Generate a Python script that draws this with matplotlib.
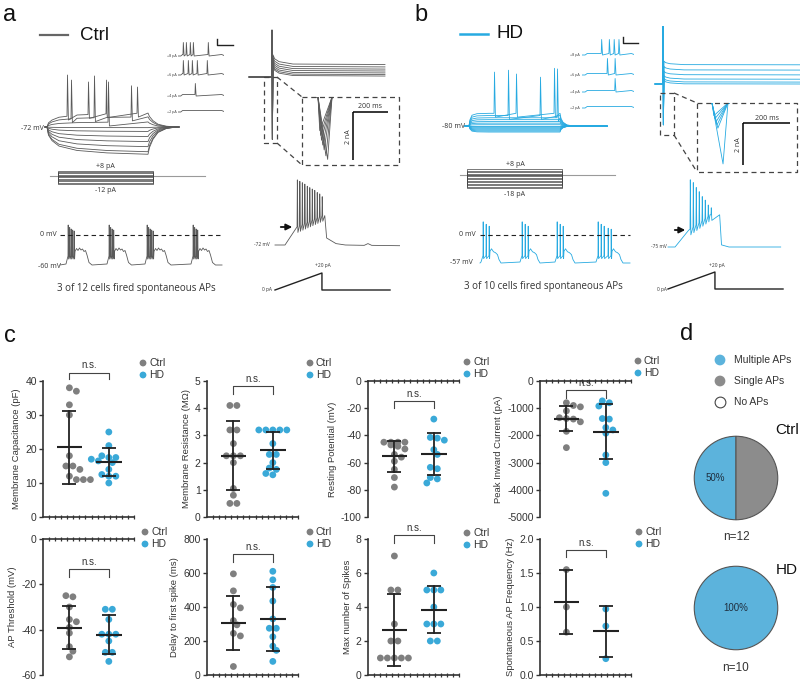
import numpy as np
import matplotlib
matplotlib.use("Agg")
import matplotlib.pyplot as plt
from matplotlib.ticker import FormatStrFormatter

plt.rcParams['font.family'] = ['Liberation Sans', 'DejaVu Sans']
plt.rcParams['axes.unicode_minus'] = False

W, H = 800, 681

# ======================= DATA =======================
# ---- panel c: per-cell values ----
cap_ctrl = [38, 37, 33, 30, 18, 15, 15, 14, 12, 11, 11, 11]
cap_hd = [25, 21, 18, 17.5, 17.5, 17, 16.5, 16, 14, 12.5, 12, 12, 10]
cap_mean = [20.5, 16.3]
cap_sd = [10.7, 4.1]

res_ctrl = [4.1, 4.1, 3.2, 3.2, 2.7, 2.25, 2.25, 2.25, 2.0, 1.05, 0.8, 0.5, 0.5]
res_hd = [3.2, 3.2, 3.2, 3.2, 3.2, 2.7, 2.3, 2.3, 2.0, 1.8, 1.75, 1.6, 1.55]
res_mean = [2.25, 2.45]
res_sd = [1.27, 0.67]

rmp_ctrl = [-45, -45, -45, -45, -47, -48, -50, -54, -56, -59, -65, -71, -78]
rmp_hd = [-28, -41.5, -42, -43.5, -50.5, -54, -63.5, -64.5, -71, -72, -75]
rmp_mean = [-55.5, -53.7]
rmp_sd = [11.6, 15.2]

ipk_ctrl = [-800, -900, -950, -1100, -1350, -1380, -1400, -1500, -1850, -2450]
ipk_hd = [-730, -800, -920, -1380, -1400, -1710, -1800, -1920, -2720, -3000, -4130]
ipk_mean = [-1380, -1860]
ipk_sd = [460, 1020]

thr_ctrl = [-25, -25.5, -30, -35.5, -36.5, -39, -41.5, -47.5, -49.5, -52]
thr_hd = [-31, -31, -35.5, -42, -42, -42, -45, -50, -50, -54]
thr_mean = [-39.1, -42.2]
thr_sd = [9.6, 8.5]

dly_ctrl = [595, 495, 415, 395, 320, 295, 245, 230, 50]
dly_hd = [610, 560, 515, 435, 330, 275, 275, 225, 170, 145, 80]
dly_mean = [305, 330]
dly_sd = [160, 186]

spk_ctrl = [7, 5, 5, 3, 2, 2, 1, 1, 1, 1, 1]
spk_hd = [6, 5, 5, 5, 4, 3, 3, 3, 2, 2]
spk_mean = [2.65, 3.85]
spk_sd = [2.12, 1.38]

frq_ctrl = [1.55, 1.0, 0.63]
frq_hd = [0.97, 0.72, 0.24]
frq_mean = [1.07, 0.64]
frq_sd = [0.47, 0.37]

groups = ['Ctrl', 'HD']

# ---- panel d ----
pie_categories = ['Multiple APs', 'Single APs', 'No APs']
pie_ctrl = [50, 50, 0]
pie_hd = [100, 0, 0]
pie_n = ['n=12', 'n=10']

# ---- panels a/b: step-current families (mV) ----
ctrl_rest = -72
hd_rest = -80
ctrl_step_dv = [-43, -39, -31, -23, -15, -7, -1, 8, 16, 22]
hd_step_dv = [-9.5, -8, -6.5, -5, -3.5, -2, 0, 2, 4.5, 7, 10, 13, 16.5, 20]
ctrl_step_on, ctrl_step_off, ctrl_step_end = 20, 1030, 1340
hd_step_on, hd_step_off, hd_step_end = 40, 950, 1420
ctrl_rise_dt = [15, 50, 120, 300, 600]
ctrl_rise_f = [0.3, 0.5, 0.7, 0.86, 0.95]
ctrl_fall_dt = [15, 50, 100, 180, 280]
ctrl_fall_f = [0.75, 0.45, 0.2, 0.06, 0.0]
hd_rise_dt = [10, 30, 80, 200]
hd_rise_f = [0.5, 0.85, 0.97, 1.0]
hd_fall_dt = [10, 30, 70, 140]
hd_fall_f = [0.6, 0.3, 0.08, 0.0]
ctrl_step_spk_trace = [9, 8, 9, 8, 9, 7, 8, 9]
ctrl_step_spk_t = [220, 260, 430, 490, 610, 630, 860, 920]
ctrl_step_spk_peak = [10, 2, -1, 8.5, 2, -1, -7, -9]
hd_step_spk_trace = [13, 12, 13, 12, 13, 11]
hd_step_spk_t = [290, 430, 510, 750, 890, 920]
hd_step_spk_peak = [5, 8, 2, -3, 11, 10]

# injected current steps (pA)
ctrl_cc_pA = [8, 6, 4, 2, 0, -2, -4, -6, -8, -10, -12]
hd_cc_pA = [8, 6, 4, 2, 0, -2, -4, -6, -8, -10, -12, -14, -16, -18]
ctrl_cc_on, ctrl_cc_off, cc_end = 80, 1030, 1550
hd_cc_on, hd_cc_off = 70, 1020

# small example traces (ms of spikes, spike height)
inset_shape_t = [0, 60, 100, 950, 1000]
inset_shape_v = [0, 0, 1.5, 1.5, 0.5]
ctrl_inset_labels = ['+8 pA', '+6 pA', '+4 pA', '+2 pA']
hd_inset_labels = ['+8 pA', '+6 pA', '+4 pA', '+2 pA']
ctrl_inset_spk = [[108, 174, 260, 326, 651], [108, 217, 304, 412, 629], [369], []]
hd_inset_spk = [[370, 518, 611, 703], [481, 629], [629], []]
ctrl_inset_h = [12, 13, 11, 0]
hd_inset_h = [14, 15, 12, 0]

# voltage clamp (nA)
ctrl_vc_ss = [0.04, 0.1, 0.17, 0.25, 0.33, 0.42, 0.52]
hd_vc_ss = [0.0, 0.08, 0.2, 0.38, 0.58, 0.8]
ctrl_vc_up, ctrl_vc_down, ctrl_vc_bump = 1.95, -2.6, 0.4
hd_vc_up, hd_vc_down, hd_vc_bump = 2.4, -1.7, 0.15
vc_tpl_t = [6, 15, 40, 120]
vc_tpl_f = [1.0, 0.6, 0.3, 0.05]
ctrl_inset_pk = [-1.4, -1.6, -1.8, -2.0, -2.2, -2.45, -2.6]
ctrl_inset_tpk = [10, 15, 20, 27, 35, 45, 55]
ctrl_inset_trec = 80
hd_inset_pk = [-0.6, -0.75, -0.9, -1.05, -1.2, -2.9]
hd_inset_tpk = [8, 12, 17, 21, 25, 47]
hd_inset_trec = 68

# ramp
ramp_t = [0, 1000, 1000, 2450]
ramp_i = [0, 20, 0, 0]
ctrl_ramp_t = [0, 213, 470, 1000, 1060, 1100, 1300, 1500, 1900, 1980, 2060, 2660]
ctrl_ramp_v = [-72, -72, -46, -30, -30, -62, -70, -72, -72.5, -70, -72.5, -73]
ctrl_ramp_spk_t = [470, 523, 576, 629, 682, 735, 788, 841, 894, 947, 1000]
ctrl_ramp_spk_pk = [21, 19, 17, 15, 12, 10, 8, 6, 3, 1, -3]
hd_ramp_t = [0, 150, 440, 895, 1100, 1140, 1300, 2400]
hd_ramp_v = [-75, -75, -51, -29, -29, -72, -75, -75]
hd_ramp_spk_t = [469, 533, 596, 660, 724, 788, 852, 916]
hd_ramp_spk_pk = [21, 17, 10, 4, -3, -8, -15, -19]

# spontaneous activity (s, mV)
ctrl_sp_rest = -60
ctrl_sp_onsets = [0.8, 4.9, 8.7, 13.3]
ctrl_sp_nspk = [5, 4, 5, 4]
ctrl_sp_spk_dt = [0.0, 0.15, 0.3, 0.45, 0.6]
ctrl_sp_peaks = [20, 15, 12, 10, 8]
ctrl_plat_dt = [0.1, 0.25, 0.4, 0.55, 0.7, 0.85, 1.0, 1.15, 1.3, 1.5, 1.8]
ctrl_plat_v = [-33, -27, -31, -26, -30, -28, -33, -31, -40, -55, -60]
ctrl_sp_end = 16.2
hd_sp_rest = -57
hd_sp_onsets = [0.3, 4.2, 7.7, 11.8]
hd_sp_nspk = [3, 3, 3, 5]
hd_sp_spk_dt = [0.0, 0.3, 0.6, 1.0, 1.3]
hd_sp_peaks = [27, 22, 18, 14, 12]
hd_plat_dt = [0.1, 0.25, 0.45, 0.65, 0.85, 1.0, 1.2]
hd_plat_v = [-33, -28, -34, -36, -40, -50, -57]
hd_sp_end = 15.0

# ======================= STYLE =======================
GRAY_DOT = '#7f7f7f'
BLUE_DOT = '#3aa9d8'
CTRL_TR = '#5a5a5a'
HD_TR = '#27aae1'
PIE_COLORS = ['#5cb3dc', '#8c8c8c', '#ffffff']
TXT = '#333333'

fig = plt.figure(figsize=(8, 6.81), dpi=100)


def fbox(x0, y0, x1, y1):
    return [x0 / W, 1 - y1 / H, (x1 - x0) / W, (y1 - y0) / H]


def tax(x0, y0, x1, y1, xref, tref, kx, yref, vref, ky):
    ax = fig.add_axes(fbox(x0, y0, x1, y1))
    ax.set_xlim(tref + (x0 - xref) / kx, tref + (x1 - xref) / kx)
    ax.set_ylim(vref - (y1 - yref) / ky, vref + (yref - y0) / ky)
    ax.axis('off')
    return ax


def with_spikes(tk, vk, st, sp, w1, w2, ahp):
    t = list(tk)
    v = list(vk)
    for ts, pk in zip(st, sp):
        b = float(np.interp(ts, tk, vk))
        t += [ts, ts + w1, ts + w2]
        v += [b, pk, b - ahp]
    o = np.argsort(np.array(t, float), kind='stable')
    return np.array(t, float)[o], np.array(v, float)[o]


# ---------------- panel a / b traces ----------------
def step_family(ax, rest, dvs, on, off, tend, rdt, rf, fdt, ff, s_tr, s_t, s_pk, color):
    tk = np.array([0, on] + [on + d for d in rdt] + [off] + [off + d for d in fdt] + [tend], float)
    fk = np.array([0, 0] + list(rf) + [1.0] + list(ff) + [0], float)
    for i, dv in enumerate(dvs):
        vk = rest + dv * fk
        st = [t for tr, t in zip(s_tr, s_t) if tr == i]
        sp = [p for tr, p in zip(s_tr, s_pk) if tr == i]
        t, v = with_spikes(tk, vk, st, sp, 5, 14, 6)
        ax.plot(t, v, color=color, lw=0.6)


def cc_schematic(ax, levels, on, off, end):
    ax.plot([0, end], [0, 0], color='#9a9a9a', lw=0.8)
    for I in levels:
        ax.plot([on, on, off, off], [0, I, I, 0], color='#444444', lw=0.5)


def small_traces(tops, x0, x1, spks, hs, labels, color, lx):
    kx = (x1 - x0) / 1000.0
    for yb, st, h, lab in zip(tops, spks, hs, labels):
        ax = tax(x0, yb - 18, x1, yb + 3, x0, 0, kx, yb, 0, 1.0)
        t, v = with_spikes(inset_shape_t, inset_shape_v, st, [h + 1.5] * len(st), 8, 25, 1.5)
        ax.plot(t, v, color=color, lw=0.6)
        ov_text.append((lx, yb, lab, 2.6, 'right'))


def vc_family(ax, ss, t0, t1, up, down, bump, color):
    for s in ss:
        t = [t0, -3, 0, 2] + list(vc_tpl_t) + [t1]
        i = [0, 0, up, down] + [s + bump * f for f in vc_tpl_f] + [s]
        ax.plot(t, i, color=color, lw=0.6)


def vc_inset(ax, pks, tpks, trec, color):
    for pk, tp in zip(pks, tpks):
        ax.plot([-6, 0, tp, trec, trec + 6], [0, 0, pk, 0, 0], color=color, lw=0.6)


def spont(ax, rest, onsets, nspk, spk_dt, peaks, plat_dt, plat_v, t_end, color):
    t = [0.0]
    v = [float(rest)]
    for on, n in zip(onsets, nspk):
        t += [on - 0.2, on]
        v += [rest + 2, -42]
        for k in range(n):
            ts = on + spk_dt[k]
            t += [ts, ts + 0.02, ts + 0.06]
            v += [-42, peaks[k], -48]
        last = on + spk_dt[n - 1]
        t += [last + d for d in plat_dt]
        v += list(plat_v)
    t.append(t_end)
    v.append(rest)
    ax.plot(t, v, color=color, lw=0.6)
    ax.plot([0, t_end], [0, 0], color='#222222', lw=0.8, ls=(0, (4, 3)))


ov_text = []  # (x, y, s, size, ha)

# ---- Ctrl (a) ----
ax = tax(38, 62, 184, 162, 45, 0, 0.1, 127, ctrl_rest, 0.634)
step_family(ax, ctrl_rest, ctrl_step_dv, ctrl_step_on, ctrl_step_off, ctrl_step_end,
            ctrl_rise_dt, ctrl_rise_f, ctrl_fall_dt, ctrl_fall_f,
            ctrl_step_spk_trace, ctrl_step_spk_t, ctrl_step_spk_peak, CTRL_TR)
ax = tax(45, 164, 210, 190, 50, 0, 0.1, 176, 0, 0.65)
cc_schematic(ax, ctrl_cc_pA, ctrl_cc_on, ctrl_cc_off, cc_end)
small_traces([56, 75, 96, 112], 178, 224, ctrl_inset_spk, ctrl_inset_h, ctrl_inset_labels, CTRL_TR, 177)
ax = tax(246, 22, 400, 175, 272, 0, 1 / 5.7, 77, 0, 24)
vc_family(ax, ctrl_vc_ss, -131, 644, ctrl_vc_up, ctrl_vc_down, ctrl_vc_bump, CTRL_TR)
ax = tax(302, 97, 399, 165, 318, 0, 1 / 5.7, 97, 0, 24)
vc_inset(ax, ctrl_inset_pk, ctrl_inset_tpk, ctrl_inset_trec, CTRL_TR)
ax.plot([200, 400], [-0.625, -0.625], color='black', lw=1.1, solid_capstyle='butt')
ax.plot([200, 200], [-0.625, -2.625], color='black', lw=1.1, solid_capstyle='butt')
ax = tax(255, 172, 400, 252, 275, 0, 1 / 21.3, 245, -72, 0.7)
t, v = with_spikes(ctrl_ramp_t, ctrl_ramp_v, ctrl_ramp_spk_t, ctrl_ramp_spk_pk, 6, 18, 8)
ax.plot(t, v, color=CTRL_TR, lw=0.6)
ax = tax(268, 262, 395, 295, 275, 0, 1 / 21.3, 290, 0, 0.85)
ax.plot(ramp_t, ramp_i, color='#222222', lw=1.0)
ax = tax(55, 220, 226, 272, 60, 0, 10, 265, ctrl_sp_rest, 0.5)
spont(ax, ctrl_sp_rest, ctrl_sp_onsets, ctrl_sp_nspk, ctrl_sp_spk_dt, ctrl_sp_peaks,
      ctrl_plat_dt, ctrl_plat_v, ctrl_sp_end, CTRL_TR)

# ---- HD (b) ----
ax = tax(458, 58, 614, 140, 465, 0, 0.1, 126, hd_rest, 0.634)
step_family(ax, hd_rest, hd_step_dv, hd_step_on, hd_step_off, hd_step_end,
            hd_rise_dt, hd_rise_f, hd_fall_dt, hd_fall_f,
            hd_step_spk_trace, hd_step_spk_t, hd_step_spk_peak, HD_TR)
ax = tax(455, 162, 620, 192, 460, 0, 0.1, 175, 0, 0.73)
cc_schematic(ax, hd_cc_pA, hd_cc_on, hd_cc_off, cc_end)
small_traces([55, 75, 92, 108], 582, 634, hd_inset_spk, hd_inset_h, hd_inset_labels, HD_TR, 580)
ax = tax(648, 20, 800, 175, 663, 0, 1 / 5.7, 84, 0, 24)
vc_family(ax, hd_vc_ss, -46, 781, hd_vc_up, hd_vc_down, hd_vc_bump, HD_TR)
ax = tax(697, 103, 797, 172, 712, 0, 1 / 4.26, 103, 0, 21)
vc_inset(ax, hd_inset_pk, hd_inset_tpk, hd_inset_trec, HD_TR)
ax.plot([132, 332], [-0.95, -0.95], color='black', lw=1.1, solid_capstyle='butt')
ax.plot([132, 132], [-0.95, -2.95], color='black', lw=1.1, solid_capstyle='butt')
ax = tax(660, 172, 790, 254, 668, 0, 1 / 21.3, 247, -75, 0.7)
t, v = with_spikes(hd_ramp_t, hd_ramp_v, hd_ramp_spk_t, hd_ramp_spk_pk, 6, 18, 8)
ax.plot(t, v, color=HD_TR, lw=0.6)
ax = tax(662, 262, 790, 295, 668, 0, 1 / 21.3, 289, 0, 0.85)
ax.plot(ramp_t, ramp_i, color='#222222', lw=1.0)
ax = tax(476, 216, 634, 268, 480, 0, 10, 263, hd_sp_rest, 0.49)
spont(ax, hd_sp_rest, hd_sp_onsets, hd_sp_nspk, hd_sp_spk_dt, hd_sp_peaks,
      hd_plat_dt, hd_plat_v, hd_sp_end, HD_TR)


# ---------------- panel c ----------------
def swarm(vals, ylim, hpx, step_px=7.0, dot=5.5, tol=2.0):
    ymin, ymax = ylim
    order = sorted(range(len(vals)), key=lambda i: -vals[i])
    py = {i: (vals[i] - ymin) / (ymax - ymin) * hpx for i in order}
    rows = []
    for i in order:
        if rows and abs(py[rows[-1][0]] - py[i]) <= tol:
            rows[-1].append(i)
        else:
            rows.append([i])
    placed = []
    offs = [0.0] * len(vals)
    for row in rows:
        n = len(row)
        base = [(j - (n - 1) / 2) * step_px for j in range(n)]
        chosen = 0.0
        for sh in [0, 0.5, -0.5, 1, -1, 1.5, -1.5, 2, -2, 2.5, -2.5]:
            ok = True
            for j, i in enumerate(row):
                x = base[j] + sh * step_px
                for (qx, qy) in placed:
                    if (x - qx) ** 2 + (py[i] - qy) ** 2 < dot ** 2:
                        ok = False
                        break
                if not ok:
                    break
            if ok:
                chosen = sh
                break
        for j, i in enumerate(row):
            x = base[j] + chosen * step_px
            offs[i] = x
            placed.append((x, py[i]))
    return offs


c_specs = [
    (cap_ctrl, cap_hd, cap_mean, cap_sd, 'Membrane Capacitance (pF)', (0, 40), [0, 10, 20, 30, 40], 'bottom', (42.5, 40.6), (43, 381, 134, 517), (143, 363), '%d'),
    (res_ctrl, res_hd, res_mean, res_sd, 'Membrane Resistance (M\u03a9)', (0, 5), [0, 1, 2, 3, 4, 5], 'bottom', (4.83, 4.54), (207, 381, 298, 517), (310, 363), '%d'),
    (rmp_ctrl, rmp_hd, rmp_mean, rmp_sd, 'Resting Potential (mV)', (-100, 0), [-100, -80, -60, -40, -20, 0], 'top', (-14.6, -20.2), (368, 381, 459, 517), (467, 362), '%d'),
    (ipk_ctrl, ipk_hd, ipk_mean, ipk_sd, 'Peak Inward Current (pA)', (-5000, 0), [-5000, -4000, -3000, -2000, -1000, 0], 'top', (-320, -610), (540, 381, 631, 517), (638, 361), '%d'),
    (thr_ctrl, thr_hd, thr_mean, thr_sd, 'AP Threshold (mV)', (-60, 0), [-60, -40, -20, 0], 'top', (-13.2, -16.8), (43, 539, 134, 675), (145, 532), '%d'),
    (dly_ctrl, dly_hd, dly_mean, dly_sd, 'Delay to first spike (ms)', (0, 800), [0, 200, 400, 600, 800], 'bottom', (712, 665), (207, 539, 298, 675), (310, 532), '%d'),
    (spk_ctrl, spk_hd, spk_mean, spk_sd, 'Max number of Spikes', (0, 8), [0, 2, 4, 6, 8], 'bottom', (8.24, 7.76), (368, 539, 459, 675), (467, 533), '%d'),
    (frq_ctrl, frq_hd, frq_mean, frq_sd, 'Spontaneous AP Frequency (Hz)', (0, 2), [0, 0.5, 1.0, 1.5, 2.0], 'bottom', (1.84, 1.74), (540, 539, 631, 675), (639, 532), '%.1f'),
]

XPOS = [0.87, 2.17]
legend_items = []
for (vc, vh, mn, sd, lab, ylim, ticks, xside, br, bx, leg, fmt) in c_specs:
    ax = fig.add_axes(fbox(*bx))
    ax.patch.set_alpha(0)
    ax.set_xlim(0, 3)
    ax.set_ylim(*ylim)
    hpx = bx[3] - bx[1]
    pxu = (bx[2] - bx[0]) / 3.0
    for k, (vals, col) in enumerate(zip([vc, vh], [GRAY_DOT, BLUE_DOT])):
        offs = swarm(vals, ylim, hpx)
        xs = [XPOS[k] + o / pxu for o in offs]
        ax.scatter(xs, vals, s=24, color=col, edgecolors='none', zorder=2, clip_on=False)
        m, s = mn[k], sd[k]
        x = XPOS[k]
        ax.plot([x - 0.42, x + 0.42], [m, m], color='#222222', lw=1.5, zorder=3, solid_capstyle='butt')
        ax.plot([x, x], [m - s, m + s], color='#222222', lw=1.3, zorder=3)
        for yy in (m - s, m + s):
            ax.plot([x - 0.23, x + 0.23], [yy, yy], color='#222222', lw=1.3, zorder=3, solid_capstyle='butt')
    top, legb = br
    ax.plot([XPOS[0], XPOS[0], XPOS[1], XPOS[1]], [legb, top, top, legb], color='#444444', lw=0.8, clip_on=False)
    ax.annotate('n.s.', xy=((XPOS[0] + XPOS[1]) / 2, top), xytext=(0, 1.5), textcoords='offset points',
                ha='center', va='bottom', fontsize=7, color=TXT, annotation_clip=False)
    ax.spines['right'].set_visible(False)
    if xside == 'bottom':
        ax.spines['top'].set_visible(False)
        ax.xaxis.set_ticks_position('bottom')
    else:
        ax.spines['bottom'].set_visible(False)
        ax.xaxis.set_ticks_position('top')
    for sname in ['left', 'top', 'bottom']:
        ax.spines[sname].set_linewidth(1.2)
        ax.spines[sname].set_color('#333333')
    ax.set_xticks(np.linspace(0.2, 3.0, 15))
    ax.set_xticklabels([])
    ax.tick_params(axis='x', direction='inout', length=3.5, width=0.9, color='#333333')
    ax.set_yticks(ticks)
    ax.yaxis.set_major_formatter(FormatStrFormatter(fmt))
    ax.tick_params(axis='y', direction='out', length=3, width=1.0, color='#333333', labelsize=7.5,
                   labelcolor=TXT, pad=1.5)
    ax.set_ylabel(lab, fontsize=6.8, color=TXT, labelpad=3)
    legend_items.append(leg)


# ---------------- panel d ----------------
def draw_pie(bx, vals):
    ax = fig.add_axes(fbox(*bx))
    v = [x for x in vals if x > 0]
    c = [PIE_COLORS[i] for i, x in enumerate(vals) if x > 0]
    ax.pie(v, colors=c, startangle=90, counterclock=True,
           wedgeprops=dict(edgecolor='#555555', linewidth=0.8))
    ax.set_xlim(-1.03, 1.03)
    ax.set_ylim(-1.03, 1.03)
    ax.set_aspect('equal')
    ax.axis('off')
    frac = v[0] / sum(v)
    if frac > 0.999:
        pos = (0, 0)
    else:
        ang = np.deg2rad(90 + 180 * frac)
        pos = (0.5 * np.cos(ang), 0.5 * np.sin(ang))
    ax.text(pos[0], pos[1], '%d%%' % round(frac * 100), ha='center', va='center', fontsize=7, color='#1f2f3f')


draw_pie((693, 435, 779, 521), pie_ctrl)
draw_pie((693, 565, 779, 651), pie_hd)

# ---------------- overlay (labels, boxes, arrows) ----------------
ov = fig.add_axes([0, 0, 1, 1])
ov.set_xlim(0, W)
ov.set_ylim(H, 0)
ov.axis('off')

for s, (x, y) in zip(['a', 'b', 'c', 'd'], [(10, 15), (421, 15), (10, 336), (687, 334)]):
    ov.text(x, y, s, fontsize=17, ha='center', va='center', color='#111111')

ov.plot([40, 68], [35, 35], color='#666666', lw=1.6)
ov.text(80, 35, 'Ctrl', fontsize=13.5, va='center', ha='left', color='#111111')
ov.plot([460, 488], [34, 34], color=HD_TR, lw=1.8)
ov.text(497, 34, 'HD', fontsize=13.5, va='center', ha='left', color='#111111')

# legends panel c
for (lx, ly) in legend_items:
    ov.scatter([lx], [ly], s=24, color=GRAY_DOT, edgecolors='none')
    ov.scatter([lx], [ly + 12], s=24, color=BLUE_DOT, edgecolors='none')
    ov.text(lx + 6, ly, groups[0], fontsize=7.5, va='center', ha='left', color=TXT)
    ov.text(lx + 6, ly + 12, groups[1], fontsize=7.5, va='center', ha='left', color=TXT)

# legend panel d
for k, (lab, col) in enumerate(zip(pie_categories, PIE_COLORS)):
    ov.scatter([720], [360 + 21 * k], s=60, color=col, edgecolors='#444444' if k == 2 else 'none', linewidths=0.8)
    ov.text(734, 360 + 21 * k, lab, fontsize=7.5, va='center', ha='left', color=TXT)
ov.text(787, 430, 'Ctrl', fontsize=11, ha='center', va='center', color='#111111')
ov.text(787, 570, 'HD', fontsize=11, ha='center', va='center', color='#111111')
ov.text(736, 537, pie_n[0], fontsize=8.5, ha='center', va='center', color=TXT)
ov.text(736, 668, pie_n[1], fontsize=8.5, ha='center', va='center', color=TXT)

# dashed zoom boxes
DASH = dict(color='#444444', lw=0.9, ls=(0, (4, 3)))
for (x0, y0, x1, y1), (cx, cy0, cy1) in [((264, 77, 277, 143), (302, 97, 165)),
                                          ((660, 93, 674, 135), (697, 103, 172))]:
    ov.plot([x0, x1, x1, x0, x0], [y0, y0, y1, y1, y0], **DASH)
    ov.plot([x1, cx], [y0, cy0], **DASH)
    ov.plot([x1, cx], [y1, cy1], **DASH)
ov.plot([302, 399, 399, 302, 302], [97, 97, 165, 165, 97], **DASH)
ov.plot([697, 797, 797, 697, 697], [103, 103, 172, 172, 103], **DASH)

# tiny scale bars
ov.plot([217, 217, 233], [39, 45, 45], color='#222222', lw=1.0)
ov.plot([623, 623, 638], [37, 43, 43], color='#222222', lw=1.0)

# arrows
for (x0, x1, y) in [(278, 295, 227), (672, 688, 230)]:
    ov.annotate('', xy=(x1, y), xytext=(x0, y),
                arrowprops=dict(arrowstyle='-|>', color='#111111', lw=1.3, mutation_scale=9))

SMALL = dict(color=TXT, family=['Open Sans', 'DejaVu Sans'])
labels_ab = [
    (44, 128, '-72 mV', 5, 'right'), (105, 166, '+8 pA', 5, 'center'), (105, 191, '-12 pA', 5, 'center'),
    (370, 106, '200 ms', 5, 'center'), (270, 245, '-72 mV', 3.5, 'right'), (272, 290, '0 pA', 3.5, 'right'),
    (323, 266, '+20 pA', 3.5, 'center'), (57, 235, '0 mV', 5, 'right'), (61, 266, '-60 mV', 5, 'right'),
    (465, 127, '-80 mV', 5, 'right'), (515, 165, '+8 pA', 5, 'center'), (515, 194, '-18 pA', 5, 'center'),
    (767, 118, '200 ms', 5, 'center'), (667, 247, '-75 mV', 3.5, 'right'), (667, 289, '0 pA', 3.5, 'right'),
    (717, 266, '+20 pA', 3.5, 'center'), (476, 235, '0 mV', 5, 'right'), (473, 263, '-57 mV', 5, 'right'),
]
for (x, y, s, fs, ha) in labels_ab + ov_text:
    ov.text(x, y, s, fontsize=fs, ha=ha, va='center', **SMALL)
ov.text(348, 137, '2 nA', fontsize=5, rotation=90, ha='center', va='center', **SMALL)
ov.text(738, 145, '2 nA', fontsize=5, rotation=90, ha='center', va='center', **SMALL)
ov.text(136, 288, '3 of 12 cells fired spontaneous APs', fontsize=7, ha='center', va='center', **SMALL)
ov.text(543, 287, '3 of 10 cells fired spontaneous APs', fontsize=7, ha='center', va='center', **SMALL)

fig.savefig('out.png', dpi=100, facecolor='white')
